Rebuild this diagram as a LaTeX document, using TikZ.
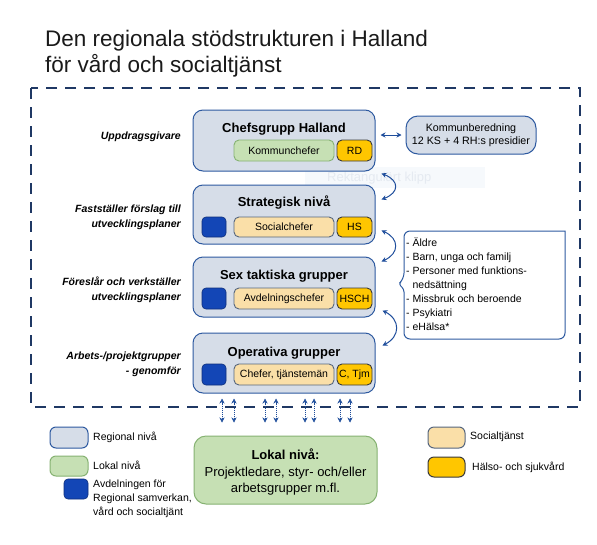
\documentclass[tikz,border=0pt]{standalone}
\usepackage{fontspec}
\setmainfont{Liberation Sans}
\usetikzlibrary{arrows.meta,calc}
\definecolor{regfill}{HTML}{D6DDE8}
\definecolor{regborder}{HTML}{2E5AA0}
\definecolor{grnfill}{HTML}{C6E0B4}
\definecolor{grnborder}{HTML}{86B272}
\definecolor{socfill}{HTML}{FADFA8}
\definecolor{socborder}{HTML}{56667E}
\definecolor{hsfill}{HTML}{FFC600}
\definecolor{hsborder}{HTML}{3A3A3A}
\definecolor{avdfill}{HTML}{1346B6}
\definecolor{avdborder}{HTML}{0E2F7C}
\definecolor{arrowblue}{HTML}{1F4E9C}
\definecolor{dashnavy}{HTML}{1F3864}
\definecolor{wmfill}{HTML}{F6F9FC}
\definecolor{wmtext}{HTML}{E5EAF1}
\definecolor{titletext}{HTML}{1A1A1A}
\newcommand\myfs[2]{\fontsize{#1}{#2}\selectfont}
\begin{document}
\begin{tikzpicture}[x=1pt,y=-1pt,
  regbox/.style={draw=regborder, fill=regfill, rounded corners=10pt, line width=1pt, inner sep=0pt, minimum width=182pt},
  boxtitle/.style={font=\myfs{13}{15}\bfseries, inner sep=0pt},
  grnbox/.style={draw=grnborder, fill=grnfill, rounded corners=5pt, line width=0.9pt, inner sep=0pt, font=\myfs{10.5}{12}},
  socbox/.style={draw=socborder, fill=socfill, rounded corners=5pt, line width=0.9pt, inner sep=0pt, font=\myfs{10.5}{12}},
  hsbox/.style={draw=hsborder, fill=hsfill, rounded corners=5pt, line width=0.9pt, inner sep=0pt, font=\myfs{10.5}{12}},
  avdbox/.style={draw=avdborder, fill=avdfill, rounded corners=4pt, line width=0.6pt, inner sep=0pt},
  sidelabel/.style={anchor=east, align=right, font=\myfs{10.5}{15}\bfseries\itshape, inner sep=0pt},
  legtext/.style={anchor=west, align=left, font=\myfs{10.5}{14}, inner sep=0pt},
  dblarrow/.style={draw=arrowblue, line width=1pt, {Stealth[length=5pt,width=5pt]}-{Stealth[length=5pt,width=5pt]}},
  dotline/.style={draw=arrowblue, line width=1pt, densely dotted, shorten <=3pt, shorten >=3pt},
  tiponly/.style={draw=arrowblue, fill=arrowblue, line width=0.5pt, -{Stealth[length=5pt,width=5pt]}},
  frame/.style={draw=dashnavy, line width=1.2pt, dash pattern=on 11pt off 8pt}
]
\useasboundingbox (0,0) rectangle (597,544);
\fill[white] (0,0) rectangle (597,544);

% title
\node[anchor=north west, align=left, font=\myfs{22.5}{26}, text=titletext, inner sep=0pt] (title) at (45,29.5)
  {Den regionala stödstrukturen i Halland\\för vård och socialtjänst};

% dashed frame
\draw[frame] (31,88) rectangle (580,407);

% faint clipping watermark
\node[fill=wmfill, minimum width=180pt, minimum height=21pt, inner sep=0pt] (wm) at (395,177.5) {};
\node[anchor=west, text=wmtext, font=\myfs{13}{15}, inner sep=0pt] (wmt) at (327,178) {Rektangulärt klipp};

% main boxes
\node[regbox, minimum height=61pt] (chef) at (284,140.5) {};
\node[regbox, minimum height=59pt] (strat) at (284,214.5) {};
\node[regbox, minimum height=60pt] (sex) at (284,287) {};
\node[regbox, minimum height=60pt] (oper) at (284,363) {};

\node[boxtitle] (chefT) at (284,129) {Chefsgrupp Halland};
\node[boxtitle] (stratT) at (284,203) {Strategisk nivå};
\node[boxtitle] (sexT) at (284,276) {Sex taktiska grupper};
\node[boxtitle] (operT) at (284,353) {Operativa grupper};

% inner boxes
\node[grnbox, minimum width=100pt, minimum height=21pt] (kc) at (284,150.5) {Kommunchefer};
\node[hsbox, minimum width=35pt, minimum height=21pt] (rd) at (354.5,150.5) {RD};

\node[avdbox, minimum width=24pt, minimum height=20pt] (a1) at (214,227) {};
\node[socbox, minimum width=100pt, minimum height=20pt] (sc) at (284,227) {Socialchefer};
\node[hsbox, minimum width=35pt, minimum height=20pt] (hs) at (354.5,227) {HS};

\node[avdbox, minimum width=24pt, minimum height=21pt] (a2) at (214,298.5) {};
\node[socbox, minimum width=100pt, minimum height=21pt] (ac) at (284,298.5) {Avdelningschefer};
\node[hsbox, minimum width=35pt, minimum height=21pt] (hsch) at (354.5,298.5) {HSCH};

\node[avdbox, minimum width=24pt, minimum height=21pt] (a3) at (214,374.5) {};
\node[socbox, minimum width=100pt, minimum height=21pt] (ct) at (284,374.5) {Chefer, tjänstemän};
\node[hsbox, minimum width=35pt, minimum height=21pt] (ctjm) at (354.5,374.5) {C, Tjm};

% side labels
\node[sidelabel] (l1) at (181,137) {Uppdragsgivare};
\node[sidelabel] (l2) at (181,217.5) {Fastställer förslag till\\utvecklingsplaner};
\node[sidelabel] (l3) at (181,289.5) {Föreslår och verkställer\\utvecklingsplaner};
\node[sidelabel] (l4) at (181,364.5) {Arbets-/projektgrupper\\- genomför};

% Kommunberedning
\node[draw=regborder, fill=regfill, rounded corners=12pt, line width=1pt, minimum width=130pt, minimum height=38pt, inner sep=0pt, align=center, font=\myfs{10.7}{13}] (kb) at (471,135) {Kommunberedning\\12 KS + 4 RH:s presidier};
\draw[dblarrow] ([xshift=5pt]chef.east |- kb.west) -- ([xshift=-4pt]kb.west);

% curved arrows
\draw[dblarrow] ([xshift=6pt,yshift=-2pt]chef.south east) .. controls ([xshift=24pt,yshift=-9pt]chef.south east) and ([xshift=24pt,yshift=-8pt]strat.north east) .. ([xshift=6pt,yshift=-15pt]strat.north east);
\draw[dblarrow] ([xshift=6pt,yshift=14pt]strat.south east) .. controls ([xshift=24pt,yshift=6pt]strat.south east) and ([xshift=24pt,yshift=3pt]sex.north east) .. ([xshift=6pt,yshift=-5pt]sex.north east);
\draw[dblarrow] ([xshift=7pt,yshift=7pt]sex.south east) .. controls ([xshift=25pt,yshift=-2pt]sex.south east) and ([xshift=25pt,yshift=-4pt]oper.north east) .. ([xshift=7pt,yshift=-13pt]oper.north east);

% list box
\draw[draw=regborder, line width=1pt] (565,231) [rounded corners=6pt] -- (404,231) -- (404,279) [rounded corners=3pt] -- (398.5,284) -- (404,289) [rounded corners=6pt] -- (404,339) -- (565,339) [sharp corners] -- cycle;
\node[anchor=north west, align=left, font=\myfs{10.5}{14}, inner sep=0pt] (list) at (406,238)
  {- Äldre\\- Barn, unga och familj\\- Personer med funktions-\\\phantom{- }nedsättning\\- Missbruk och beroende\\- Psykiatri\\- eHälsa*};

% local level
\node[draw=grnborder, fill=grnfill, rounded corners=12pt, line width=1pt, minimum width=183pt, minimum height=68pt, inner sep=0pt] (lokal) at (285.5,470) {};
\node[font=\myfs{13}{16.5}, align=center, inner sep=0pt] (lokalT) at (285.5,472) {\textbf{Lokal nivå:}\\Projektledare, styr- och/eller\\arbetsgrupper m.fl.};

% vertical dotted arrows
\foreach \px in {222,234,265,276,305,314,340,350} {
  \draw[dotline] ([xshift=\px pt - 284pt, yshift=-5pt]oper.south) -- ([xshift=\px pt - 285.5pt, yshift=13pt]lokal.north);
  \draw[tiponly] ([xshift=\px pt - 284pt, yshift=-10pt]oper.south) -- ([xshift=\px pt - 284pt, yshift=-5pt]oper.south);
  \draw[tiponly] ([xshift=\px pt - 285.5pt, yshift=18pt]lokal.north) -- ([xshift=\px pt - 285.5pt, yshift=13pt]lokal.north);
}

% legend
\node[draw=regborder, fill=regfill, rounded corners=6pt, line width=1pt, minimum width=38pt, minimum height=21pt, inner sep=0pt] (lg1) at (69,437.5) {};
\node[legtext] (lg1t) at (93,437) {Regional nivå};
\node[draw=grnborder, fill=grnfill, rounded corners=6pt, line width=1pt, minimum width=38pt, minimum height=20pt, inner sep=0pt] (lg2) at (69,466) {};
\node[legtext] (lg2t) at (93,465) {Lokal nivå};
\node[avdbox, minimum width=24pt, minimum height=20pt] (lg3) at (76,489) {};
\node[legtext, anchor=north west] (lg3t) at (93,480) {Avdelningen för\\Regional samverkan,\\vård och socialtjänt};
\node[draw=socborder, fill=socfill, rounded corners=6pt, line width=1pt, minimum width=37pt, minimum height=21pt, inner sep=0pt] (lg4) at (446.5,437.5) {};
\node[legtext] (lg4t) at (470,437) {Socialtjänst};
\node[draw=hsborder, fill=hsfill, rounded corners=6pt, line width=1pt, minimum width=37pt, minimum height=20pt, inner sep=0pt] (lg5) at (446.5,467) {};
\node[legtext] (lg5t) at (472,467.5) {Hälso- och sjukvård};
\end{tikzpicture}
\end{document}
